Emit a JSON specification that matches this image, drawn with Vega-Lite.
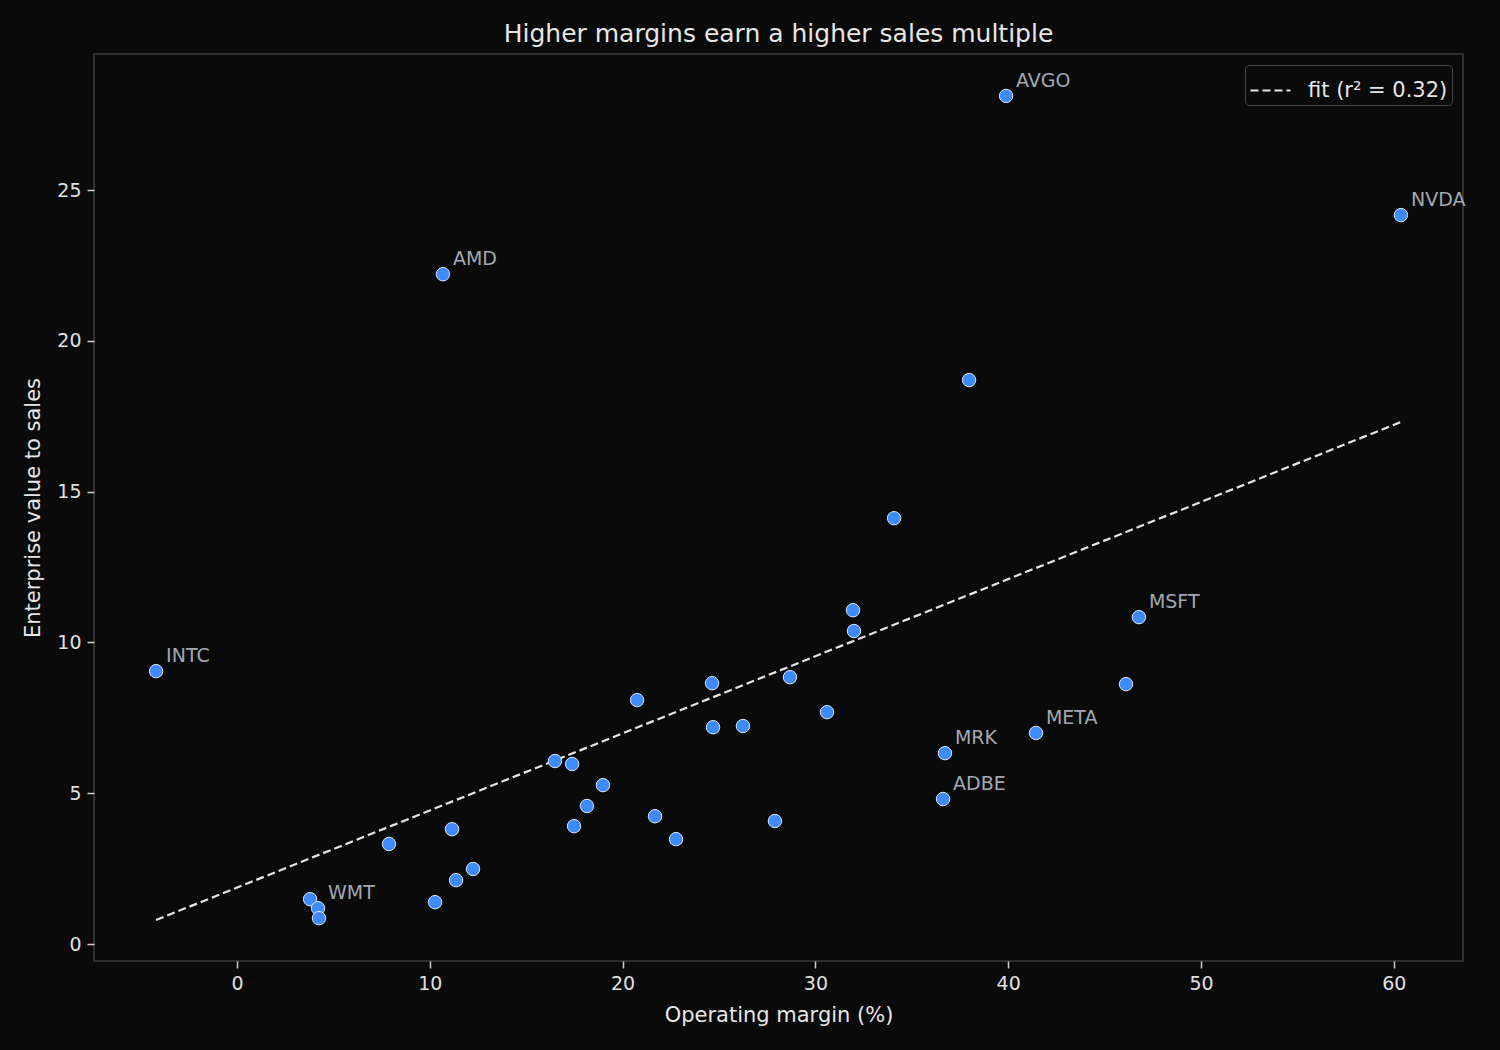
{
  "$schema": "https://vega.github.io/schema/vega-lite/v6.json",
  "width": 1369,
  "height": 907,
  "autosize": {"type": "none"},
  "padding": {"left": 94, "top": 54, "right": 37, "bottom": 89},
  "background": "#0a0a0a",
  "title": {
    "text": "Higher margins earn a higher sales multiple",
    "fontSize": 25,
    "fontWeight": "normal",
    "color": "#e6e6e6",
    "offset": 7
  },
  "datasets": {
    "companies": [
      {"margin": -4.2, "ev_sales": 9.05, "label": "INTC"},
      {"margin": 10.68, "ev_sales": 22.21, "label": "AMD"},
      {"margin": 39.89, "ev_sales": 28.12, "label": "AVGO"},
      {"margin": 60.37, "ev_sales": 24.17, "label": "NVDA"},
      {"margin": 37.97, "ev_sales": 18.7, "label": ""},
      {"margin": 34.08, "ev_sales": 14.12, "label": ""},
      {"margin": 31.95, "ev_sales": 11.07, "label": ""},
      {"margin": 32.0, "ev_sales": 10.38, "label": ""},
      {"margin": 46.78, "ev_sales": 10.84, "label": "MSFT"},
      {"margin": 46.11, "ev_sales": 8.62, "label": ""},
      {"margin": 41.44, "ev_sales": 7.0, "label": "META"},
      {"margin": 36.72, "ev_sales": 6.33, "label": "MRK"},
      {"margin": 36.62, "ev_sales": 4.81, "label": "ADBE"},
      {"margin": 28.68, "ev_sales": 8.85, "label": ""},
      {"margin": 30.6, "ev_sales": 7.69, "label": ""},
      {"margin": 24.64, "ev_sales": 8.65, "label": ""},
      {"margin": 24.69, "ev_sales": 7.19, "label": ""},
      {"margin": 26.24, "ev_sales": 7.23, "label": ""},
      {"margin": 20.75, "ev_sales": 8.09, "label": ""},
      {"margin": 16.49, "ev_sales": 6.07, "label": ""},
      {"margin": 17.38, "ev_sales": 5.97, "label": ""},
      {"margin": 18.98, "ev_sales": 5.27, "label": ""},
      {"margin": 18.15, "ev_sales": 4.58, "label": ""},
      {"margin": 17.48, "ev_sales": 3.91, "label": ""},
      {"margin": 21.68, "ev_sales": 4.24, "label": ""},
      {"margin": 22.77, "ev_sales": 3.48, "label": ""},
      {"margin": 27.9, "ev_sales": 4.08, "label": ""},
      {"margin": 7.88, "ev_sales": 3.32, "label": ""},
      {"margin": 11.15, "ev_sales": 3.81, "label": ""},
      {"margin": 12.24, "ev_sales": 2.49, "label": ""},
      {"margin": 11.36, "ev_sales": 2.12, "label": ""},
      {"margin": 10.27, "ev_sales": 1.39, "label": ""},
      {"margin": 3.79, "ev_sales": 1.49, "label": ""},
      {"margin": 4.2, "ev_sales": 1.19, "label": "WMT"},
      {"margin": 4.25, "ev_sales": 0.86, "label": ""}
    ],
    "fit": [
      {"margin": -4.2, "ev_sales": 0.8, "series": "fit (r² = 0.32)"},
      {"margin": 60.37, "ev_sales": 17.31, "series": "fit (r² = 0.32)"}
    ]
  },
  "encoding": {
    "x": {
      "field": "margin",
      "type": "quantitative",
      "title": "Operating margin (%)",
      "scale": {"domain": [-7.42, 63.59], "nice": false, "zero": false},
      "axis": {"values": [0, 10, 20, 30, 40, 50, 60], "titlePadding": 11}
    },
    "y": {
      "field": "ev_sales",
      "type": "quantitative",
      "title": "Enterprise value to sales",
      "scale": {"domain": [-0.56, 29.51], "nice": false, "zero": false},
      "axis": {"values": [0, 5, 10, 15, 20, 25], "titlePadding": 13}
    }
  },
  "layer": [
    {
      "data": {"name": "fit"},
      "mark": {"type": "line", "color": "#e6e6e6", "strokeWidth": 2.2},
      "encoding": {
        "strokeDash": {
          "field": "series",
          "type": "nominal",
          "scale": {"range": [[8, 4]]},
          "legend": {
            "title": null,
            "orient": "top-right",
            "offset": 11,
            "symbolType": "stroke",
            "symbolSize": 1600,
            "symbolStrokeColor": "#e6e6e6",
            "symbolStrokeWidth": 2.2,
            "labelFontSize": 21,
            "labelColor": "#e6e6e6",
            "labelOffset": 16,
            "padding": 4,
            "strokeColor": "#444444",
            "fillColor": "#0a0a0a",
            "cornerRadius": 4
          }
        }
      }
    },
    {
      "data": {"name": "companies"},
      "mark": {
        "type": "circle",
        "size": 180,
        "color": "#3d8bfd",
        "opacity": 1,
        "stroke": "#dbe7ff",
        "strokeWidth": 1
      }
    },
    {
      "data": {"name": "companies"},
      "transform": [{"filter": "datum.label != ''"}],
      "mark": {
        "type": "text",
        "align": "left",
        "baseline": "middle",
        "dx": 10,
        "dy": -15,
        "fontSize": 19,
        "color": "#a3a8b2"
      },
      "encoding": {"text": {"field": "label", "type": "nominal"}}
    }
  ],
  "config": {
    "font": "DejaVu Sans",
    "view": {"stroke": "#3c3c3c", "strokeWidth": 1.5},
    "axis": {
      "grid": false,
      "domain": false,
      "tickColor": "#d0d0d0",
      "tickSize": 7,
      "tickWidth": 1.5,
      "labelColor": "#e0e0e0",
      "labelFontSize": 19,
      "labelPadding": 6,
      "titleColor": "#e6e6e6",
      "titleFontSize": 21,
      "titleFontWeight": "normal"
    }
  }
}
